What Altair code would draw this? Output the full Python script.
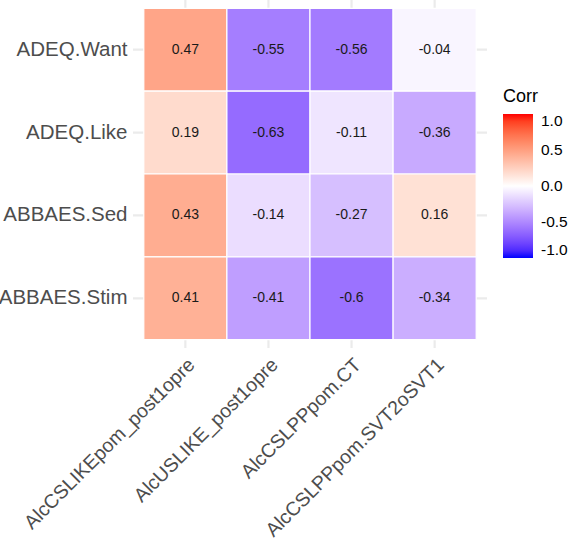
import altair as alt
import pandas as pd

cols = ["AlcCSLIKEpom_post1opre", "AlcUSLIKE_post1opre", "AlcCSLPPpom.CT", "AlcCSLPPpom.SVT2oSVT1"]
rows = ["ADEQ.Want", "ADEQ.Like", "ABBAES.Sed", "ABBAES.Stim"]
vals_want = [0.47, -0.55, -0.56, -0.04]
vals_like = [0.19, -0.63, -0.11, -0.36]
vals_sed = [0.43, -0.14, -0.27, 0.16]
vals_stim = [0.41, -0.41, -0.6, -0.34]
legend_ticks = [-1.0, -0.5, 0.0, 0.5, 1.0]

recs = []
for r, vals in zip(rows, [vals_want, vals_like, vals_sed, vals_stim]):
    for c, v in zip(cols, vals):
        recs.append({"Var1": c, "Var2": r, "Corr": v, "lab": f"{v:g}"})
df = pd.DataFrame(recs)
df_cols = pd.DataFrame({"Var1": cols})
df_rows = pd.DataFrame({"Var2": rows})

FONT = "Liberation Sans"
FS = 20.5

xscale = alt.Scale(domain=cols, paddingInner=0, paddingOuter=0.13)
yscale = alt.Scale(domain=rows, paddingInner=0, paddingOuter=0.1)

xaxis = alt.Axis(labelAngle=-45, labelAlign="right", labelBaseline="top",
                 labelFontSize=19.5, labelColor="#4d4d4d", labelFont=FONT,
                 labelPadding=7, domain=False, ticks=False, grid=False,
                 labelLimit=400)
yaxis = alt.Axis(labelFontSize=FS, labelColor="#4d4d4d", labelFont=FONT,
                 labelPadding=6, domain=False, ticks=False, grid=False,
                 labelLimit=300)

vgrid = alt.Chart(df_cols).mark_rule(color="#ebebeb", strokeWidth=2.2).encode(
    x=alt.X("Var1:N", title=None, scale=xscale, axis=xaxis))
hgrid = alt.Chart(df_rows).mark_rule(color="#ebebeb", strokeWidth=2.2).encode(
    y=alt.Y("Var2:N", title=None, scale=yscale, axis=yaxis))

base = alt.Chart(df)
tiles = base.mark_rect(stroke="white", strokeWidth=1.2).encode(
    x=alt.X("Var1:N", title=None, scale=xscale, axis=xaxis),
    y=alt.Y("Var2:N", title=None, scale=yscale, axis=yaxis),
    color=alt.Color("Corr:Q",
                    scale=alt.Scale(domain=[-1, 0, 1], range=["#0000ff", "#ffffff", "#ff0000"],
                                    interpolate="lab"),
                    legend=alt.Legend(title="Corr", values=legend_ticks,
                                      labelExpr="replace(format(datum.value, '.1f'), '\u2212', '-')",
                                      orient="none", legendX=370, legendY=88,
                                      gradientLength=144, gradientThickness=30,
                                      gradientStrokeWidth=0,
                                      titleFontSize=18, titleFont=FONT, titleFontWeight="normal",
                                      titleColor="black", titlePadding=8,
                                      labelFontSize=15.5, labelFont=FONT, labelColor="black",
                                      labelOffset=8, labelBaseline="middle")),
)
text = base.mark_text(fontSize=14, font=FONT, color="#1a1a1a").encode(
    x=alt.X("Var1:N", title=None, scale=xscale, axis=xaxis),
    y=alt.Y("Var2:N", title=None, scale=yscale, axis=yaxis),
    text="lab:N"
)

chart = (vgrid + hgrid + tiles + text).properties(
    width=354, height=348,
    autosize=alt.AutoSizeParams(type="none"),
    padding={"left": 133, "top": 0, "right": 82, "bottom": 196},
    background="white",
).configure_view(strokeWidth=0, stroke="transparent")

chart.save("out.html", embed_options={"renderer": "svg", "actions": False})
